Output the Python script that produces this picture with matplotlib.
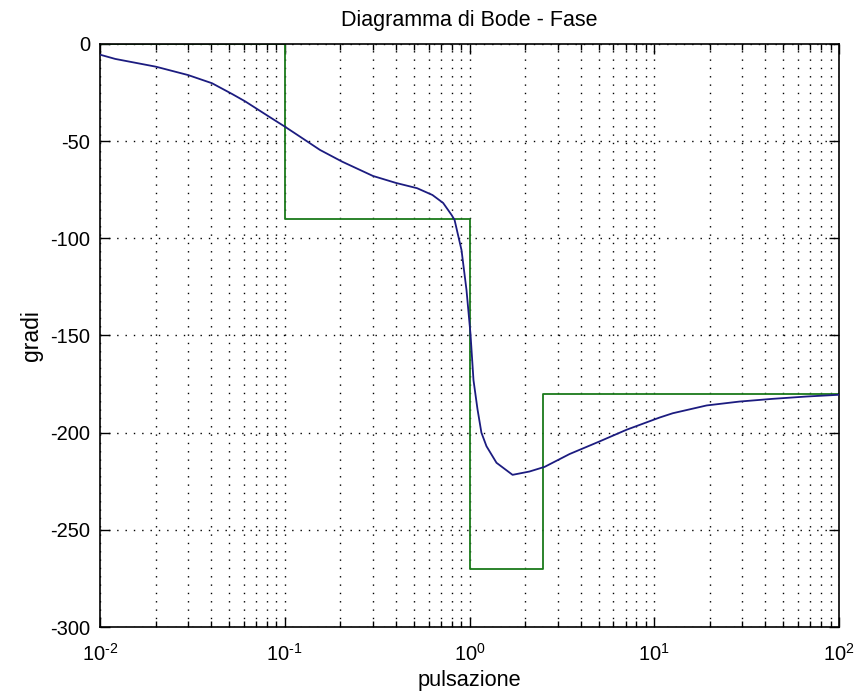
import matplotlib
matplotlib.use("Agg")
import matplotlib.pyplot as plt
from matplotlib.ticker import LogLocator, MultipleLocator, NullFormatter, FuncFormatter
import math

plt.rcParams['font.family'] = ['Liberation Sans', 'DejaVu Sans']
plt.rcParams['mathtext.fontset'] = 'custom'
plt.rcParams['mathtext.rm'] = 'Liberation Sans'
plt.rcParams['mathtext.it'] = 'Liberation Sans'
plt.rcParams['mathtext.default'] = 'regular'
plt.rcParams['axes.unicode_minus'] = False

# Phase curve (rad/s, degrees)
w_phase = [0.01, 0.0121, 0.0201, 0.030, 0.0404, 0.0518, 0.061, 0.081, 0.1,
           0.121, 0.155, 0.204, 0.30, 0.40, 0.52, 0.63, 0.72, 0.80, 0.83,
           0.905, 0.963, 1.012, 1.051, 1.105, 1.16, 1.236, 1.40, 1.71, 2.11,
           2.55, 3.48, 5.06, 7.08, 10.7, 12.6, 19.2, 28.9, 43.7, 66.7, 100]
phase = [-5.5, -7.7, -11.7, -16, -20.2, -25.7, -29.5, -37, -42.5,
         -47.7, -54.5, -60.5, -67.9, -71.5, -74.2, -77.7, -81.8, -88, -90.5,
         -106, -126.5, -149, -173, -188, -200, -207, -215.5, -221.7, -220,
         -217.6, -211, -204.5, -198.5, -192.2, -190, -186, -184, -182.6, -181.4, -180.5]

# Asymptotic approximation
w_asym = [0.01, 0.1, 0.1, 1, 1, 2.5, 2.5, 100]
phase_asym = [0, 0, -90, -90, -270, -270, -180, -180]

fig = plt.figure(figsize=(8.68, 6.98), dpi=100)
ax = fig.add_axes([0.1152, 0.1017, 0.8514, 0.8353])

ax.plot(w_phase, phase, color='#1c1c80', lw=1.3, zorder=3)
ax.plot(w_asym, phase_asym, color='#1a7a1a', lw=1.3, zorder=2)

ax.set_xscale('log')
ax.set_xlim(0.01, 100)
ax.set_ylim(-300, 0)
ax.yaxis.set_major_locator(MultipleLocator(50))
ax.xaxis.set_major_locator(LogLocator(base=10, numticks=10))
ax.xaxis.set_minor_locator(LogLocator(base=10, subs=range(2, 10), numticks=100))
ax.xaxis.set_minor_formatter(NullFormatter())


def log_fmt(v, pos):
    e = int(round(math.log10(v)))
    return r'$10^{\text{%d}}$' % e


ax.xaxis.set_major_formatter(FuncFormatter(log_fmt))

ax.grid(True, which='major', axis='both', color='black', linestyle=(0, (1, 5)), lw=1.0)
ax.grid(True, which='minor', axis='x', color='black', linestyle=(0, (1, 5)), lw=1.0)

ax.tick_params(which='both', direction='in', top=True, right=True, labelsize=14.5)
ax.tick_params(axis='x', pad=11.5)
ax.tick_params(axis='y', pad=7)
ax.tick_params(which='major', length=7, width=1)
ax.tick_params(which='minor', length=4, width=1)
for s in ax.spines.values():
    s.set_linewidth(1.2)

ax.set_title('Diagramma di Bode - Fase', fontsize=15.5, pad=13)
ax.set_xlabel('pulsazione', fontsize=15.7, labelpad=4)
ax.set_ylabel('gradi', fontsize=16.5, labelpad=5)

fig.savefig('out.png', dpi=100)
